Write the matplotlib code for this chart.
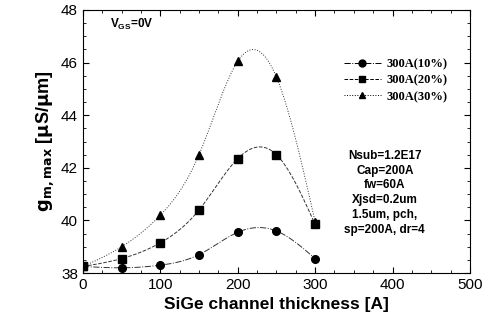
import matplotlib
matplotlib.use("Agg")
import matplotlib.pyplot as plt
import numpy as np

thickness = [0, 50, 100, 150, 200, 250, 300]
gm_10 = [38.25, 38.2, 38.3, 38.7, 39.55, 39.6, 38.55]
gm_20 = [38.25, 38.55, 39.15, 40.4, 42.35, 42.5, 39.85]
gm_30 = [38.25, 39.0, 40.2, 42.5, 46.05, 45.45, 39.95]
labels = ["300A(10%)", "300A(20%)", "300A(30%)"]
notes = "Nsub=1.2E17\nCap=200A\nfw=60A\nXjsd=0.2um\n1.5um, pch,\nsp=200A, dr=4"


def smooth(x, y, n=200):
    # natural cubic spline, only for drawing the connecting curve
    x = np.asarray(x, float)
    y = np.asarray(y, float)
    k = len(x)
    h = np.diff(x)
    A = np.zeros((k, k))
    b = np.zeros(k)
    A[0, 0] = A[-1, -1] = 1
    for i in range(1, k - 1):
        A[i, i - 1] = h[i - 1]
        A[i, i] = 2 * (h[i - 1] + h[i])
        A[i, i + 1] = h[i]
        b[i] = 6 * ((y[i + 1] - y[i]) / h[i] - (y[i] - y[i - 1]) / h[i - 1])
    M = np.linalg.solve(A, b)
    xs = np.linspace(x[0], x[-1], n)
    idx = np.clip(np.searchsorted(x, xs) - 1, 0, k - 2)
    x0, x1 = x[idx], x[idx + 1]
    hh = x1 - x0
    ys = (M[idx] * (x1 - xs) ** 3 / (6 * hh) + M[idx + 1] * (xs - x0) ** 3 / (6 * hh)
          + (y[idx] / hh - M[idx] * hh / 6) * (x1 - xs)
          + (y[idx + 1] / hh - M[idx + 1] * hh / 6) * (xs - x0))
    return xs, ys


plt.rcParams["font.family"] = ["Liberation Sans", "DejaVu Sans"]
plt.rcParams["font.weight"] = "bold"

fig = plt.figure(figsize=(4.91, 3.22), dpi=100)
ax = fig.add_axes([0.169, 0.152, 0.788, 0.817])

series = [gm_10, gm_20, gm_30]
markers = ["o", "s", "^"]
styles = ["-.", "--", ":"]
for vals, m, ls, lab in zip(series, markers, styles, labels):
    xs, ys = smooth(thickness, vals)
    ax.plot(xs, ys, ls, color="#333333", lw=0.7)
    ax.plot(thickness, vals, m, color="black", ms=5.5, lw=0)
    ax.plot([], [], ls, marker=m, color="black", lw=0.7, ms=5, label=lab)

ax.set_xlim(0, 500)
ax.set_ylim(38, 48)
ax.set_xticks(range(0, 501, 100))
ax.set_yticks(range(38, 49, 2))
ax.set_xticks(range(0, 501, 25), minor=True)
ax.set_yticks(np.arange(38, 48.01, 0.5), minor=True)
ax.tick_params(which="both", direction="in", top=True, right=True, labelsize=11)
ax.tick_params(which="major", length=4)
ax.tick_params(which="minor", length=2)
for t in ax.get_xticklabels() + ax.get_yticklabels():
    t.set_fontweight("normal")

ax.set_xlabel("SiGe channel thickness [A]", fontsize=12.5, fontweight="bold")
ax.set_ylabel(r"$\mathbf{g_{m,max}}$ [$\mathbf{\mu}$S/$\mathbf{\mu}$m]", fontsize=13, fontweight="bold")

ax.text(35, 47.3, r"V$_{\mathregular{GS}}$=0V", fontsize=8.5, fontweight="bold")
ax.text(390, 41.05, notes, fontsize=8.5, fontweight="bold", ha="center", va="center",
        linespacing=1.3)

leg = ax.legend(loc="upper right", bbox_to_anchor=(0.97, 0.86), frameon=False,
                prop={"family": "Liberation Serif", "weight": "bold", "size": 9},
                handlelength=3, labelspacing=0.35, handletextpad=0.4)

fig.savefig("out.png", dpi=100)
